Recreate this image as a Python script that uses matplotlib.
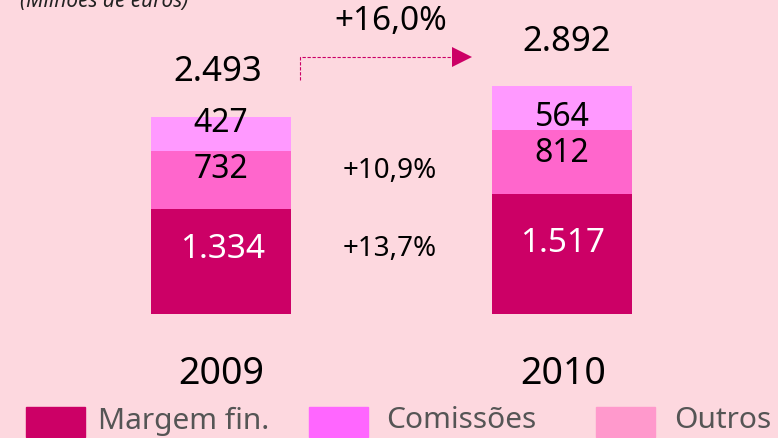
import matplotlib
matplotlib.use("Agg")
import matplotlib.pyplot as plt

years = ["2009", "2010"]
margem = [1334, 1517]
comissoes = [732, 812]
outros = [427, 564]
totals = ["2.493", "2.892"]
margem_lbl = ["1.334", "1.517"]
com_lbl = ["732", "812"]
out_lbl = ["427", "564"]
growth_total = "+16,0%"
growth_com = "+10,9%"
growth_mar = "+13,7%"
legend_labels = ["Margem fin.", "Comissões", "Outros"]

BG = "#FDD8DF"
C_MAR = "#CC0066"
C_COM = "#FF66CC"
C_OUT = "#FF99FF"
L_COM = "#FF66FF"
L_OUT = "#FF99CC"

W, H = 778, 438
fig = plt.figure(figsize=(W / 100, H / 100), dpi=100, facecolor=BG)
ax = fig.add_axes([0, 0, 1, 1])
ax.set_facecolor(BG)
ax.axis("off")

scale = 0.0789  # px per unit
base_px = 124   # baseline from bottom in px
ax.set_xlim(0, W)
ax.set_ylim(-base_px / scale, (H - base_px) / scale)

xs = [221, 562.5]
bw = 140
ax.bar(xs, margem, width=bw, color=C_MAR)
ax.bar(xs, comissoes, width=bw, bottom=margem, color=C_COM)
bot2 = [m + c for m, c in zip(margem, comissoes)]
ax.bar(xs, outros, width=bw, bottom=bot2, color=C_OUT)

FONT = ["Noto Sans", "DejaVu Sans"]

def px(x, y_top):
    return (x / W, 1 - y_top / H)

def t(x, y, s, size, color="black", **kw):
    fig.text(*px(x, y), s, fontsize=size, color=color, ha="center", va="center",
             family=FONT, **kw)

# segment labels
t(223, 250, margem_lbl[0], 24, "white")
t(563, 244, margem_lbl[1], 24, "white")
t(221, 170, com_lbl[0], 23)
t(562, 153, com_lbl[1], 23)
t(221, 124, out_lbl[0], 23)
t(562, 117, out_lbl[1], 23)

# totals
t(218, 72, totals[0], 25)
t(567, 42, totals[1], 25)

# growth labels
t(390, 171, growth_com, 20)
t(390, 249, growth_mar, 20)
t(391, 22, growth_total, 24)

# arrow
yv = lambda p: (H - base_px - p) / scale
ax.plot([300, 300, 455], [yv(80), yv(57), yv(57)],
        color=C_MAR, lw=0.8, ls=(0, (3, 1.5)))
ax.plot([462], [yv(57)], marker=">", markersize=14, color=C_MAR, markeredgewidth=0)

# years
t(221, 374, years[0], 27)
t(563, 374, years[1], 27)

# subtitle
fig.text(*px(20, 1), "(Milhões de euros)", fontsize=15, style="italic", color="#222222",
         ha="left", va="center", family=FONT)

# legend
lx = [26, 309, 596]
tx = [98, 386, 674]
cols = [C_MAR, L_COM, L_OUT]
for x0, x1, c, lab in zip(lx, tx, cols, legend_labels):
    fig.patches.append(plt.Rectangle(px(x0, 437), 59 / W, 30 / H, transform=fig.transFigure,
                                     color=c, figure=fig))
    fig.text(*px(x1, 421), lab, fontsize=21.5, color="#555555", ha="left", va="center",
             family=FONT)

fig.savefig("out.png", dpi=100, facecolor=BG)
